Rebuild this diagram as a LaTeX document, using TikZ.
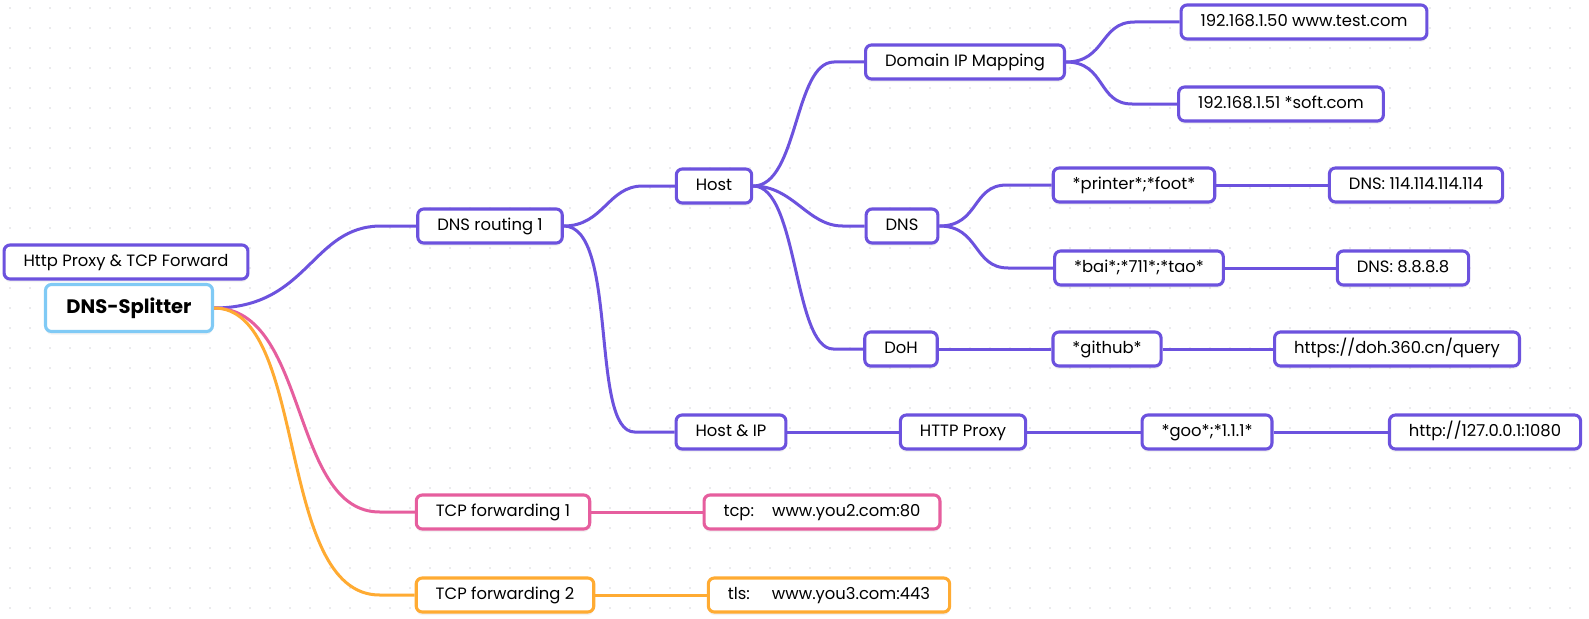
\documentclass[tikz,border=0pt]{standalone}
\usepackage{fontspec}
\setmainfont{Poppins}
\usetikzlibrary{shadows}
\definecolor{pur}{RGB}{108,82,222}
\definecolor{pnk}{RGB}{230,94,158}
\definecolor{org}{RGB}{255,171,50}
\definecolor{sky}{RGB}{128,202,245}
\definecolor{dotc}{RGB}{215,215,220}
\tikzset{
  box/.style={draw=pur, line width=3.1pt, rounded corners=6pt, fill=white,
    minimum height=34pt, inner xsep=19.5pt, inner ysep=0pt,
    text height=12pt, text depth=3.5pt,
    font=\fontsize{16.4}{19}\selectfont,
    drop shadow={shadow xshift=0pt, shadow yshift=-3pt, opacity=0.10}},
  pbox/.style={box, draw=pnk},
  obox/.style={box, draw=org},
  rootbox/.style={box, draw=sky, minimum height=47pt, minimum width=167pt,
    font=\fontsize{19.5}{22}\selectfont\bfseries, text height=14pt, text depth=4pt},
  pedge/.style={draw=pur, line width=3pt},
  kedge/.style={draw=pnk, line width=3pt},
  oedge/.style={draw=org, line width=3pt},
}
\begin{document}
\begin{tikzpicture}[x=1pt,y=-1pt]
\useasboundingbox[fill=white] (0,0) rectangle (1589,618);
\foreach \i in {0,...,79} {
  \foreach \j in {0,...,30} {
    \fill[dotc] (10+20*\i,8+20*\j) circle (0.9pt);
  }
}
% nodes
\node[box] (http) at (126,262) {Http Proxy \& TCP Forward};
\node[rootbox] (root) at (129,308) {DNS-Splitter};
\node[box] (dr1) at (490,226) {DNS routing 1};
\node[box] (host) at (714,186) {Host};
\node[box] (hostip) at (731,432) {Host \& IP};
\node[box] (dim) at (965,62) {Domain IP Mapping};
\node[box] (dns) at (902,226) {DNS};
\node[box] (doh) at (901,349) {DoH};
\node[box] (hproxy) at (963,432) {HTTP Proxy};
\node[box] (m50) at (1304,22) {192.168.1.50 www.test.com};
\node[box] (m51) at (1281,104) {192.168.1.51 *soft.com};
\node[box] (prn) at (1134,185) {*printer*;*foot*};
\node[box] (bai) at (1139,268) {*bai*;*711*;*tao*};
\node[box] (gh) at (1107,349) {*github*};
\node[box] (goo) at (1207,432) {*goo*;*1.1.1*};
\node[box] (d114) at (1416,185) {DNS: 114.114.114.114};
\node[box] (d888) at (1403,268) {DNS: 8.8.8.8};
\node[box] (dohu) at (1397,349) {https://doh.360.cn/query};
\node[box] (hurl) at (1485,432) {http://127.0.0.1:1080};
\node[pbox] (tcp1) at (503,512) {TCP forwarding 1};
\node[pbox] (tcpu) at (822,512) {tcp:\hspace{18pt}www.you2.com:80};
\node[obox] (tcp2) at (505,595) {TCP forwarding 2};
\node[obox] (tlsu) at (829,595) {tls:\hspace{22pt}www.you3.com:443};
% edges
\draw[pedge] (root.east) .. controls +(95,0) and +(-70,0) .. ([xshift=-35pt]dr1.west) -- (dr1.west);
\draw[kedge] (root.east) .. controls +(95,0) and +(-90,0) .. ([xshift=-35pt]tcp1.west) -- (tcp1.west);
\draw[oedge] (root.east) .. controls +(95,0) and +(-105,0) .. ([xshift=-35pt]tcp2.west) -- (tcp2.west);
\draw[pedge] (dr1.east) .. controls +(40,0) and +(-35,0) .. ([xshift=-32pt]host.west) -- (host.west);
\draw[pedge] (dr1.east) .. controls +(55,0) and +(-45,0) .. ([xshift=-40pt]hostip.west) -- (hostip.west);
\draw[pedge] (host.east) .. controls +(45,0) and +(-40,0) .. ([xshift=-30pt]dim.west) -- (dim.west);
\draw[pedge] (host.east) .. controls +(40,0) and +(-35,0) .. ([xshift=-22pt]dns.west) -- (dns.west);
\draw[pedge] (host.east) .. controls +(45,0) and +(-40,0) .. ([xshift=-30pt]doh.west) -- (doh.west);
\draw[pedge] (dim.east) .. controls +(40,0) and +(-35,0) .. ([xshift=-45pt]m50.west) -- (m50.west);
\draw[pedge] (dim.east) .. controls +(40,0) and +(-35,0) .. ([xshift=-45pt]m51.west) -- (m51.west);
\draw[pedge] (dns.east) .. controls +(40,0) and +(-35,0) .. ([xshift=-45pt]prn.west) -- (prn.west);
\draw[pedge] (dns.east) .. controls +(40,0) and +(-35,0) .. ([xshift=-45pt]bai.west) -- (bai.west);
\draw[pedge] (prn.east) -- (d114.west);
\draw[pedge] (bai.east) -- (d888.west);
\draw[pedge] (doh.east) -- (gh.west);
\draw[pedge] (gh.east) -- (dohu.west);
\draw[pedge] (hostip.east) -- (hproxy.west);
\draw[pedge] (hproxy.east) -- (goo.west);
\draw[pedge] (goo.east) -- (hurl.west);
\draw[kedge] (tcp1.east) -- (tcpu.west);
\draw[oedge] (tcp2.east) -- (tlsu.west);
\end{tikzpicture}
\end{document}
